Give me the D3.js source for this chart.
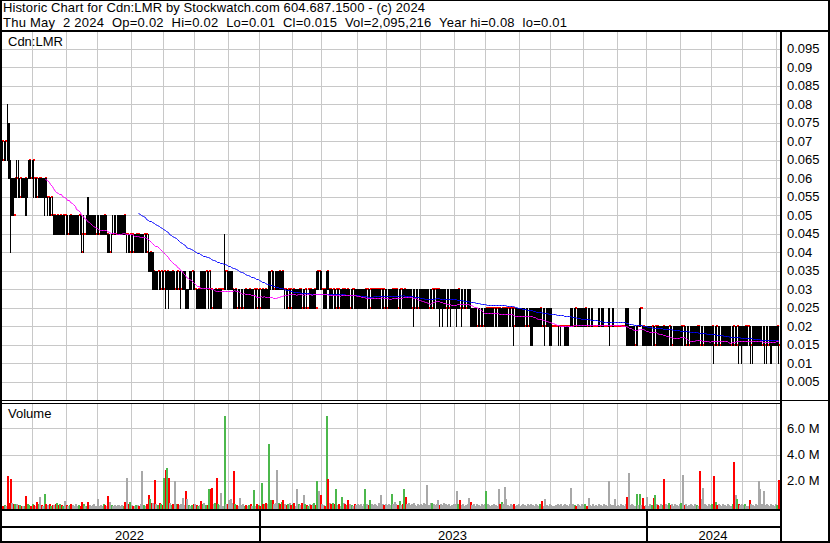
<!DOCTYPE html>
<html><head><meta charset="utf-8">
<script src="https://cdn.jsdelivr.net/npm/d3@7"></script>
<style>
body{margin:0;background:#fff}
svg{display:block}
text{font-family:"Liberation Sans",Arial,sans-serif;font-size:13px;fill:#000;white-space:pre}
</style></head><body>
<svg id="c" width="830" height="543"></svg>
<script>
// ---------- DATA (prices in cents, volume in thousands of shares), one entry per trading day ----------
const firstDay = "2022-05-02", lastDay = "2024-05-02";
const holidays = ["2022-05-23","2022-07-01","2022-08-01","2022-09-05","2022-10-10","2022-12-26","2022-12-27",
  "2023-01-02","2023-02-20","2023-04-07","2023-05-22","2023-07-03","2023-08-07","2023-09-04","2023-10-09",
  "2023-12-25","2023-12-26","2024-01-01","2024-02-19","2024-03-29"];
const hi = [
 7,7,7,7,7,8,7.5,6.5,6,6,6,6.5,6.5,6,6,6,6,6,6,6.5,6.5,
 6.5,6.5,6,6,6,6,6,6,6,6,5.5,5.5,5.5,5.5,5,5,5,5,5,5,5,5,
 5,5,5,5,5,5,5,5,5,5,5,5,4.5,5,5.5,5,5,5,5,5,
 5,5,5,5,5,5,5,4.5,4.5,4.5,5,5,5,5,5,5,5,5,5,4.5,4.5,4.5,
 4.5,4.5,4.5,4.5,4.5,4.5,4.5,4.5,4.5,4.5,4.5,4.5,4,4,4,3.5,3.5,3.5,3.5,3.5,3.5,
 3.5,3.5,3.5,3.5,3.5,3.5,3.5,3.5,3.5,3.5,3.5,3.5,3.5,3.5,3.5,3,3,3.5,3.5,3.5,
 3.5,3,3,3,3.5,3.5,3.5,3.5,3.5,3.5,3.5,3,3,3,3,3,3,3,3,4.5,3.5,3.5,
 3.5,3.5,3.5,3,3,3,3,3,3,3,3,3,3,3,3,3,3,3,3,3,
 3,3,3,3,3,3,3.5,3.5,3.5,3.5,3.5,3.5,3.5,3.5,3.5,3.5,3,3,3,3,3,
 3,3,3,3,3,3,3,3,3,3,3,3,3,3,3,3,3.5,3.5,3.5,
 3.5,3,3,3.5,3.5,3,3,3,3,3,3,3,3,3,3,3,3,3,3,3,3,3,3,
 3,3,3,3,3,3,3,3,3,3,3,3,3,3,3,3,3,3,3,
 3,3,3,3,3,3,3,3,3,3,3,3,3,3,3,3,3,3,3,3,3,3,
 3,3,3,3,3,3,3,3,3,3,3,3,3,3,3,3,3,3,3,3,3,3,
 3,3,3,3,3,3,3,3,3,3,3,2.5,2.5,2.5,2.5,2.5,2.5,2.5,2.5,2.5,
 2.5,2.5,2.5,2.5,2.5,2.5,2.5,2.5,2.5,2.5,2.5,2.5,2.5,2.5,2.5,2.5,2.5,2.5,2.5,2.5,2.5,2.5,
 2.5,2.5,2.5,2.5,2.5,2.5,2.5,2.5,2.5,2.5,2.5,2.5,2.5,2.5,2.5,2.5,2.5,2.5,2.5,2.5,
 2.5,2,2,2,2,2,2,2,2,2,2,2,2,2.5,2.5,2.5,2.5,2.5,2.5,2.5,2.5,
 2.5,2.5,2.5,2.5,2.5,2.5,2.5,2,2,2,2.5,2,2.5,2.5,2,2,2.5,2.5,2,2.5,2,2,
 2,2,2,2,2,2.5,2.5,2.5,2,2,2,2,2,2,2.5,2.5,2,2,2,
 2,2,2,2,2,2,2,2,2,2,2,2,2,2,2,2,2,2,2,2,2,2,
 2,2,2,2,2,2,2,2,2,2,2,2,2,2,2,2,2,2,2,2,
 2,2,2,2,2,2,2,2,2,2,2,2,2,2,2,2,2,2,2,2,
 2,2,2,2,2,2,2,2,2,2,2,2,2,2,2,2,2,2,2,2,2,2,
 2,2
];
const lo = [
 6.5,6.5,6.5,6.5,6.5,6.5,6,4,5,5,5.5,5.5,5.5,5.5,5.5,5.5,5.5,5,5.5,6,6,
 6,5.5,5.5,5.5,5.5,5.5,5.5,5.5,5,5.5,5,5,5,5,4.5,4.5,4.5,4.5,4.5,4.5,4.5,4.5,
 4.5,4.5,4.5,4.5,4.5,4.5,4.5,4.5,4.5,4.5,4,4,4.5,4.5,4.5,4.5,4.5,4.5,4.5,4.5,
 4.5,4.5,4.5,4.5,4.5,4.5,4.5,4,4,4,4.5,4.5,4.5,4.5,4.5,4.5,4.5,4.5,4.5,4,4,4,
 4,4,4,4,4,4,4,4,4,4,4,3.5,3.5,3.5,3,3,3,3,3,3,3,
 3,2.5,3,2.5,3,3,3,3,3,3,3,2.5,3,3,2.5,2.5,2.5,3,3,3,
 3,2.5,2.5,2.5,2.5,2.5,2.5,2.5,3,2.5,2.5,2.5,2.5,2.5,2.5,2.5,2.5,2.5,3,3,3,3,
 3,3,3,2.5,2.5,2.5,2.5,2.5,2.5,2.5,2.5,2.5,2.5,2.5,2.5,2.5,2.5,2.5,2.5,2.5,
 2.5,2.5,2.5,2.5,2.5,2.5,2.5,3,3,3,3,3,3,3,3,3,2.5,2.5,2.5,2.5,2.5,
 2.5,2.5,2.5,2.5,2.5,2.5,2.5,2.5,2.5,2.5,3,2.5,2.5,2.5,2.5,2.5,3,3,3,
 3,2.5,2.5,2.5,3,2.5,2.5,2.5,2.5,2.5,2.5,2.5,2.5,2.5,2.5,2.5,2.5,2.5,2.5,2.5,2.5,2.5,2.5,
 2.5,2.5,2.5,2.5,2.5,2.5,2.5,2.5,2.5,2.5,2.5,2.5,2.5,2.5,2.5,2.5,2.5,2.5,2.5,
 2.5,2.5,2.5,2.5,2.5,2.5,2.5,2.5,2.5,2.5,2.5,2.5,2.5,2.5,2.5,2.5,2.5,2,2.5,2.5,2.5,2.5,
 2.5,2.5,2.5,2.5,2.5,2.5,2.5,2.5,2.5,2.5,2.5,2.5,2,2.5,2,2.5,2.5,2,2.5,2,2.5,2.5,
 2.5,2,2.5,2.5,2,2.5,2.5,2.5,2.5,2.5,2,2,2,2,2,2,2,2,2,2,
 2,2,2,2,2,2,2,2,2,2,2,2,2,2,2,2,2,2,1.5,2,2,2,
 2,2,2,2,2,2,2,1.5,1.5,2,2,2,2,2,2,2,1.5,2,2,1.5,
 1.5,2,2,2,2,1.5,1.5,2,2,1.5,1.5,1.5,2,2,2,2,2,2,2,2,2,
 2,2,2,2,2,2,2,2,2,2,2,2,2,2,2,2,2,1.5,2,2,2,2,
 2,2,2,2,2,2,1.5,1.5,1.5,1.5,1.5,1.5,1.5,1.5,2,2,1.5,1.5,1.5,
 1.5,1.5,1.5,1.5,1.5,1.5,1.5,1.5,1.5,1.5,1.5,1.5,1.5,1.5,1.5,1.5,1.5,1.5,1.5,1.5,1.5,1.5,
 1.5,1.5,1.5,1.5,1.5,1.5,1.5,1.5,1.5,1.5,1.5,1.5,1.5,1.5,1.5,1.5,1.5,1.5,1.5,1.5,
 1.5,1,1.5,1.5,1.5,1.5,1.5,1.5,1.5,1.5,1.5,1.5,1.5,1.5,1.5,1.5,1.5,1,1.5,1,
 1.5,1.5,1.5,1.5,1.5,1,1,1.5,1.5,1.5,1.5,1.5,1.5,1.5,1,1,1.5,1.5,1,1.5,1.5,1.5,
 1.5,1
];
const cl = [
 6.5,7,6.5,7,7,6.5,6,5.5,5.5,5,6,6,5.5,6,5.5,5.5,6,5.5,6,6.5,6,
 6.5,6,6,5.5,6,6,5.5,5.5,6,5.5,5.5,5,5.5,5,5,4.5,5,4.5,5,4.5,5,5,
 4.5,4.5,5,4.5,4.5,4.5,4.5,4.5,5,4.5,4,4.5,4.5,5,4.5,4.5,4.5,4.5,4.5,4.5,
 4.5,4.5,4.5,4.5,5,4.5,4.5,4,4,4.5,4.5,4.5,4.5,4.5,4.5,4.5,4.5,5,4.5,4.5,4,4.5,
 4.5,4,4,4.5,4.5,4,4,4,4.5,4.5,4,3.5,4,3.5,3.5,3,3,3.5,3,3.5,3,
 3.5,3,3.5,3,3,3.5,3,3,3.5,3,3,3,3,3,2.5,2.5,3,3,3.5,3,
 3,2.5,3,3,2.5,3,3,3.5,3,3.5,3,2.5,2.5,3,2.5,3,3,3,3,3.5,3.5,3,
 3,3,3,2.5,3,2.5,2.5,2.5,2.5,2.5,3,2.5,2.5,3,2.5,2.5,3,3,2.5,3,
 2.5,3,2.5,3,2.5,2.5,3,3.5,3,3,3,3,3.5,3,3.5,3,3,2.5,3,3,2.5,
 3,2.5,2.5,2.5,3,3,2.5,2.5,3,2.5,3,3,2.5,2.5,3,2.5,3.5,3.5,3,
 3,3,2.5,3.5,3,3,2.5,3,2.5,3,3,2.5,2.5,3,3,2.5,3,2.5,2.5,3,3,2.5,2.5,
 2.5,2.5,2.5,2.5,2.5,3,3,2.5,3,3,3,3,3,3,3,3,3,2.5,2.5,
 2.5,2.5,2.5,3,3,3,3,2.5,3,3,2.5,3,2.5,2.5,2.5,2.5,2.5,2.5,2.5,2.5,2.5,2.5,
 2.5,2.5,2.5,2.5,2.5,2.5,2.5,3,3,3,3,3,2.5,2.5,2.5,2.5,2.5,2.5,2.5,2.5,2.5,2.5,
 2.5,2.5,3,2.5,2.5,2.5,2.5,2.5,2.5,2.5,2,2,2,2,2,2,2,2,2,2,
 2.5,2.5,2.5,2.5,2.5,2.5,2.5,2.5,2.5,2,2.5,2.5,2.5,2.5,2.5,2.5,2.5,2.5,2,2,2,2,
 2,2,2,2,2,2,2,2,2,2,2,2,2,2.5,2,2,2,2,2,2,
 2,2,2,2,2,2,2,2,2,2,2,2,2,2,2,2.5,2,2,2,2,2,
 2,2.5,2,2,2,2,2,2,2,2,2,2,2,2,2,2,2,2,2,2,2,2,
 2,2,2,2,2,2,1.5,1.5,1.5,1.5,1.5,1.5,2,2,2.5,2.5,2,1.5,1.5,
 1.5,1.5,1.5,2,1.5,2,2,1.5,1.5,1.5,2,1.5,1.5,1.5,2,1.5,1.5,1.5,1.5,1.5,1.5,1.5,
 2,2,1.5,1.5,1.5,1.5,1.5,1.5,1.5,1.5,2,2,1.5,1.5,1.5,1.5,1.5,1.5,1.5,1.5,
 2,1.5,2,1.5,1.5,1.5,1.5,1.5,1.5,1.5,1.5,1.5,1.5,2,1.5,1.5,2,1.5,1.5,1.5,
 1.5,2,2,2,1.5,1.5,1.5,1.5,1.5,1.5,1.5,1.5,1.5,1.5,1.5,1.5,1.5,1.5,1.5,1.5,1.5,1.5,
 2,1.5
];
const vol = [
 150,100,80,120,90,2400,300,2100,300,250,200,250,150,120,100,80,100,850,200,150,100,
 200,150,100,400,200,800,150,100,1000,200,150,200,100,120,150,200,300,150,200,150,100,450,
 150,100,120,200,150,100,200,100,150,100,350,200,80,100,400,150,100,150,200,100,
 600,100,150,100,200,150,100,850,400,150,100,150,100,120,150,100,120,100,400,2200,200,350,
 150,100,100,150,120,100,200,2750,150,100,200,950,600,300,300,2050,200,150,300,200,150,
 2200,2800,3000,2200,300,150,200,1950,200,200,150,200,700,150,1200,600,150,100,150,200,
 200,150,100,150,450,200,300,150,150,1350,1400,1450,200,300,2200,200,150,1100,100,6950,200,250,
 500,600,300,2750,200,150,100,700,150,200,100,150,100,150,200,100,1300,100,200,150,
 100,1800,200,200,300,200,4800,500,500,200,300,2800,300,200,400,550,200,150,200,300,150,
 200,300,100,1350,200,150,300,900,200,150,100,200,150,200,300,150,2000,1200,900,
 200,150,100,6950,2100,300,200,300,200,1400,150,200,100,800,300,200,150,500,200,150,100,200,150,
 200,150,200,100,200,1350,200,150,500,200,150,200,150,100,300,950,200,150,200,
 150,200,150,1000,200,400,200,150,450,150,200,1350,800,200,300,150,200,300,150,100,200,150,
 200,150,300,200,1700,150,300,300,200,150,200,550,150,200,150,300,200,150,200,100,150,200,
 200,1200,200,550,150,200,100,150,200,700,400,150,200,100,200,150,100,200,150,200,
 1200,200,150,100,150,200,150,100,1350,200,350,200,1550,600,150,100,200,150,200,100,150,200,
 100,150,200,150,100,200,150,200,150,100,200,150,100,200,450,100,600,150,100,200,
 150,100,100,150,200,150,200,100,150,200,150,100,200,1450,200,150,100,200,150,100,200,
 150,200,100,650,150,100,200,100,150,100,200,150,100,200,150,100,1950,200,150,150,600,100,
 150,100,200,150,100,200,750,2600,150,200,150,100,1000,150,1000,150,700,100,150,
 800,100,200,150,650,900,200,150,100,200,150,2100,200,150,300,150,200,100,200,150,100,200,
 300,2450,150,200,100,150,200,150,100,200,150,100,2750,600,1450,200,150,100,200,150,
 200,2400,400,150,200,150,100,200,150,100,200,150,100,200,3400,900,600,200,150,200,
 150,200,100,100,550,200,150,100,200,150,2000,1400,200,1200,150,200,150,100,200,150,100,200,
 150,2095.216
];
const maShort = 31, maLong = 91;
const priceTicks = [0.005,0.01,0.015,0.02,0.025,0.03,0.035,0.04,0.045,0.05,0.055,0.06,0.065,0.07,0.075,0.08,0.085,0.09,0.095];
const priceLabels = ["0.005","0.01","0.015","0.02","0.025","0.03","0.035","0.04","0.045","0.05","0.055","0.06","0.065","0.07","0.075","0.08","0.085","0.09","0.095"];
const volTicks = [2e6, 4e6, 6e6];
const volLabels = ["2.0 M", "4.0 M", "6.0 M"];
const yearLabels = ["2022", "2023", "2024"];
const header1 = "Historic Chart for Cdn:LMR by Stockwatch.com 604.687.1500 - (c) 2024";
const header2 = "Thu May  2 2024  Op=0.02  Hi=0.02  Lo=0.01  Cl=0.015  Vol=2,095,216  Year hi=0.08  lo=0.01";
const symbolLabel = "Cdn:LMR", volumeLabel = "Volume";

// ---------- BUILD ----------
const parse = d3.utcParse("%Y-%m-%d"), fmt = d3.utcFormat("%Y-%m-%d");
const hol = new Set(holidays);
const days = d3.utcDay.range(parse(firstDay), d3.utcDay.offset(parse(lastDay), 1))
  .filter(d => d.getUTCDay() !== 0 && d.getUTCDay() !== 6 && !hol.has(fmt(d)));
const n = Math.min(days.length, hi.length, lo.length, cl.length, vol.length);
const rows = d3.range(n).map(i => ({
  date: days[i], hi: hi[i] / 100, lo: lo[i] / 100, cl: cl[i] / 100, vol: vol[i] * 1000,
  dir: i === 0 ? 0 : Math.sign(cl[i] - cl[i - 1])
}));

const x = d3.scalePoint().domain(rows.map(d => +d.date)).range([-1, 778]);
const yP = d3.scaleLinear().domain([0, 0.1]).range([400.5, 30]);
const yV = d3.scaleLinear().domain([0, 8e6]).range([507, 402.2]);
const px = d => Math.round(x(+d));
const barW = 1.3;
const bw = d => Math.max(1, Math.round(x(+d) + barW) - Math.round(x(+d)));

const svg = d3.select("#c").attr("shape-rendering", "crispEdges");
svg.append("rect").attr("width", 830).attr("height", 543).attr("fill", "#fff");

// month starts (first trading day of each month)
const monthStarts = rows.filter((r, i) => i > 0 && r.date.getUTCMonth() !== rows[i - 1].date.getUTCMonth()).map(r => r.date);
const yearStarts = monthStarts.filter(d => d.getUTCMonth() === 0);

// grid
const grid = svg.append("g").attr("stroke", "#c8c8c8").attr("stroke-width", 1);
grid.selectAll("line.mp").data(monthStarts).join("line").attr("class", "mp")
  .attr("x1", d => px(d) + 0.5).attr("x2", d => px(d) + 0.5).attr("y1", 32).attr("y2", 400);
grid.selectAll("line.mv").data(monthStarts).join("line").attr("class", "mv")
  .attr("x1", d => px(d) + 0.5).attr("x2", d => px(d) + 0.5).attr("y1", 404).attr("y2", 509);
grid.selectAll("line.hp").data(priceTicks).join("line").attr("class", "hp")
  .attr("x1", 2).attr("x2", 780).attr("y1", d => Math.round(yP(d)) + 0.5).attr("y2", d => Math.round(yP(d)) + 0.5);
grid.selectAll("line.hv").data(volTicks).join("line").attr("class", "hv")
  .attr("x1", 2).attr("x2", 780).attr("y1", d => Math.round(yV(d)) + 0.5).attr("y2", d => Math.round(yV(d)) + 0.5);

// close ticks (red), beneath bars
svg.append("g").selectAll("rect").data(rows).join("rect")
  .attr("x", d => px(d.date) + 1).attr("y", d => Math.round(yP(d.cl)) - 1)
  .attr("width", 2).attr("height", 2).attr("fill", "#ff0000");
// hi-lo bars
svg.append("g").selectAll("rect").data(rows.filter(d => d.hi > d.lo)).join("rect")
  .attr("x", d => px(d.date)).attr("y", d => Math.round(yP(d.hi)))
  .attr("width", d => bw(d.date)).attr("height", d => Math.round(yP(d.lo)) - Math.round(yP(d.hi)) + 1)
  .attr("fill", "#000");

// moving averages
function sma(w) {
  return rows.slice(w - 1).map((r, k) => ({ date: r.date, v: d3.mean(rows.slice(k, k + w), d => d.cl) }));
}
const line = d3.line().x(d => px(d.date) + 0.5).y(d => Math.round(yP(d.v)) + 0.5);
svg.append("path").datum(sma(maLong)).attr("d", line).attr("fill", "none").attr("stroke", "#0000ff").attr("stroke-width", 1).attr("shape-rendering", "auto");
svg.append("path").datum(sma(maShort)).attr("d", line).attr("fill", "none").attr("stroke", "#ff00ff").attr("stroke-width", 1).attr("shape-rendering", "auto");

// volume bars
const vColor = d => d.dir > 0 ? "#4cb84c" : d.dir < 0 ? "#ff0000" : "#a8a8a8";
svg.append("g").selectAll("rect").data(rows).join("rect")
  .attr("x", d => px(d.date)).attr("y", d => Math.min(508, Math.round(yV(d.vol))))
  .attr("width", 2).attr("height", d => 509 - Math.min(508, Math.round(yV(d.vol))))
  .attr("fill", vColor);

// frame / separators
const frame = [
  [0, 0, 830, 1], [0, 541, 830, 2], [0, 0, 2, 543], [828, 0, 2, 543],
  [0, 30, 830, 2], [780, 30, 2, 513],
  [0, 400, 830, 1], [0, 403, 780, 1],
  [0, 509, 782, 2], [0, 526, 782, 2]
];
svg.append("g").selectAll("rect").data(frame).join("rect")
  .attr("x", d => d[0]).attr("y", d => d[1]).attr("width", d => d[2]).attr("height", d => d[3]).attr("fill", "#000");
svg.append("g").selectAll("rect").data(yearStarts).join("rect")
  .attr("x", d => px(d)).attr("y", 509).attr("width", 2).attr("height", 33).attr("fill", "#000");

// texts
svg.append("text").attr("x", 3).attr("y", 12).attr("textLength", 422).attr("lengthAdjust", "spacing").text(header1);
svg.append("text").attr("x", 3).attr("y", 27).attr("textLength", 564).attr("lengthAdjust", "spacing").text(header2);
svg.append("text").attr("x", 8).attr("y", 46).text(symbolLabel);
svg.append("text").attr("x", 8).attr("y", 418).text(volumeLabel);
svg.append("g").selectAll("text").data(priceTicks).join("text")
  .attr("x", 787).attr("y", d => yP(d) + 4.5).text((d, i) => priceLabels[i]);
svg.append("g").selectAll("text").data(volTicks).join("text")
  .attr("x", 787).attr("y", d => yV(d) + 4.5).text((d, i) => volLabels[i]);
const yb = [0, ...yearStarts.map(px), 780];
svg.append("g").selectAll("text").data(yearLabels).join("text")
  .attr("x", (d, i) => (yb[i] + yb[i + 1]) / 2).attr("y", 540).attr("text-anchor", "middle").text(d => d);
</script>
</body></html>
